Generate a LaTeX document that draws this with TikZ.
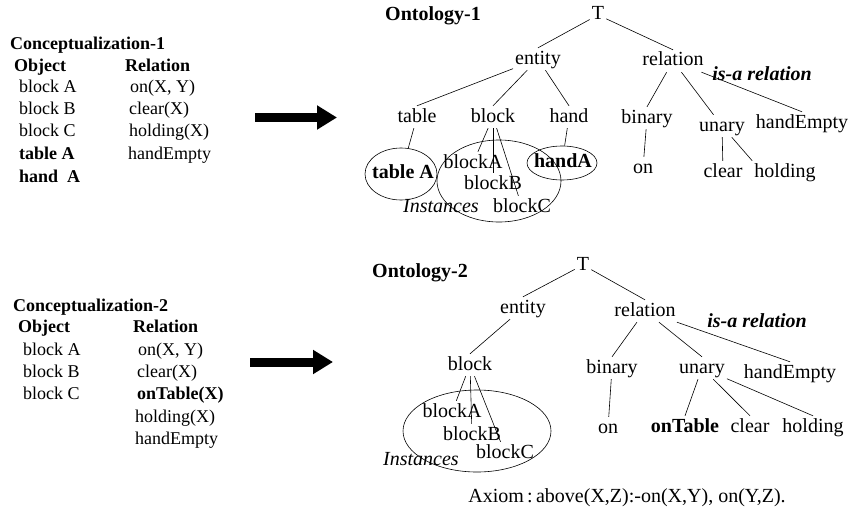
\documentclass[tikz,border=0pt]{standalone}
\usepackage{fontspec}
\setmainfont{Liberation Serif}
\usetikzlibrary{shapes.geometric,arrows.meta}

\begin{document}
\begin{tikzpicture}[x=1pt, y=-1pt]
			\tikzstyle{word}     = [font=\fontsize{20}{24}\selectfont, inner sep=2pt, text height=14pt, text depth=4pt]
			\tikzstyle{boldword} = [word, font=\fontsize{20}{24}\selectfont\bfseries]
			\tikzstyle{item}     = [anchor=west, inner sep=0pt, font=\fontsize{18}{22}\selectfont, text height=13pt, text depth=4pt]
			\tikzstyle{head}     = [item, font=\fontsize{18}{22}\selectfont\bfseries]
			\tikzstyle{ring}     = [ellipse, draw=black, line width=0.6pt, inner sep=0pt]
			\tikzstyle{branch}   = [line width=0.6pt]
			\tikzstyle{bigarrow} = [line width=9pt, -{Triangle[length=20pt, width=23pt]}]

			\useasboundingbox (0,0) rectangle (853,511);

%			conceptualization 1
			\node[head] (c1title) at (10,45) {Conceptualization-1};
			\foreach \name/\x/\y/\lbl in {c1obj/14/67/Object, c1rel/125/67/Relation, c1tabA/19/155/table A, c1hndA/19/178/{hand\ \ A}}
				\node[head] (\name) at (\x, \y) {\lbl};
			\foreach \name/\x/\y/\lbl in {c1blkA/19/88/block A, c1blkB/19/110/block B, c1blkC/19/132/block C,
			                              c1on/130/88/{on(X, Y)}, c1clr/129/110/clear(X), c1hold/129/132/holding(X), c1hE/128/155/handEmpty}
				\node[item] (\name) at (\x, \y) {\lbl};

%			conceptualization 2
			\node[head] (c2title) at (13,307) {Conceptualization-2};
			\foreach \name/\x/\y/\lbl in {c2obj/18/328/Object, c2rel/133/328/Relation, c2onT/137/395/onTable(X)}
				\node[head] (\name) at (\x, \y) {\lbl};
			\foreach \name/\x/\y/\lbl in {c2blkA/23/351/block A, c2blkB/23/373/block B, c2blkC/23/395/block C,
			                              c2on/138/351/{on(X, Y)}, c2clr/137/373/clear(X), c2hold/135/418/holding(X), c2hE/135/440/handEmpty}
				\node[item] (\name) at (\x, \y) {\lbl};

%			arrows
			\coordinate (arrA1) at (255,117.5);
			\coordinate (arrB1) at (337,117.5);
			\coordinate (arrA2) at (250,362);
			\coordinate (arrB2) at (333,362);
			\draw[bigarrow] (arrA1) -- (arrB1);
			\draw[bigarrow] (arrA2) -- (arrB2);

%			ontology 1
			\node[head, font=\fontsize{20}{24}\selectfont\bfseries] (onto1) at (385,16) {Ontology-1};
			\node[ring, minimum width=72pt, minimum height=52pt] (ringTA) at (401,174) {};
			\node[ring, minimum width=124pt, minimum height=82pt] (ringB1) at (499,181) {};
			\node[ring, minimum width=70pt, minimum height=34pt] (ringHA) at (562,163) {};

			\foreach \name/\x/\y/\lbl in {T1/598/15/T, ent1/538/59/entity, rel1/673/61/relation,
			                              tab1/417/117/table, blk1/493/117/block, hnd1/569/117/hand,
			                              bin1/647/118/binary, una1/722/126/unary, hE1/802/123/handEmpty,
			                              bA1/473/163/blockA, bB1/493/184/blockB, bC1/522/207/blockC,
			                              on1/643/168/on, clr1/723/172/clear, hold1/785/172/holding}
				\node[word] (\name) at (\x, \y) {\lbl};
			\node[boldword] (tA) at (403,173) {table A};
			\node[boldword] (hA) at (563,162) {handA};
			\node[word, font=\fontsize{20}{24}\selectfont\itshape] (inst1) at (441,207) {Instances};
			\node[word, font=\fontsize{20}{24}\selectfont\bfseries\itshape] (isa1) at (762,76) {is-a relation};

			\foreach \from/\to in {T1/ent1.north, T1/rel1.north, ent1/tab1.north, ent1/blk1.north, ent1/hnd1.north,
			                       rel1/bin1.north, rel1/una1, rel1/hE1.north, tab1/ringTA, blk1/bA1, blk1/bB1, blk1/bC1,
			                       hnd1/ringHA, bin1/on1, una1/clr1, una1/hold1.north west}
				\draw[branch] (\from) -- (\to);

%			ontology 2
			\node[head, font=\fontsize{20}{24}\selectfont\bfseries] (onto2) at (372,273) {Ontology-2};
			\node[ring, minimum width=148pt, minimum height=82pt] (ringB2) at (477,431) {};

			\foreach \name/\x/\y/\lbl in {T2/583/265/T, ent2/523/308/entity, rel2/645/311/relation,
			                              blk2/470/365/block, bin2/612/368/binary, una2/702/368/unary, hE2/790/373/handEmpty,
			                              bA2/452/412/blockA, bB2/472/435/blockB, bC2/505/453/blockC,
			                              on2/608/428/on, clr2/750/427/clear, hold2/813/427/holding}
				\node[word] (\name) at (\x, \y) {\lbl};
			\node[boldword] (onT) at (685,427) {onTable};
			\node[word, font=\fontsize{20}{24}\selectfont\itshape] (inst2) at (421,460) {Instances};
			\node[word, font=\fontsize{20}{24}\selectfont\bfseries\itshape] (isa2) at (757,322) {is-a relation};
			\node[word] (axiom) at (627,497) {Axiom\,:\,above(X,Z):-on(X,Y), on(Y,Z).};

			\foreach \from/\to in {T2/ent2.north, T2/rel2.north, ent2/blk2.north, rel2/bin2.north, rel2/una2.north,
			                       rel2/hE2.north, blk2/bA2, blk2/bB2, blk2/bC2, bin2/on2, una2/onT.north,
			                       una2/clr2.north, una2/hold2.north}
				\draw[branch] (\from) -- (\to);

		\end{tikzpicture}
\end{document}
